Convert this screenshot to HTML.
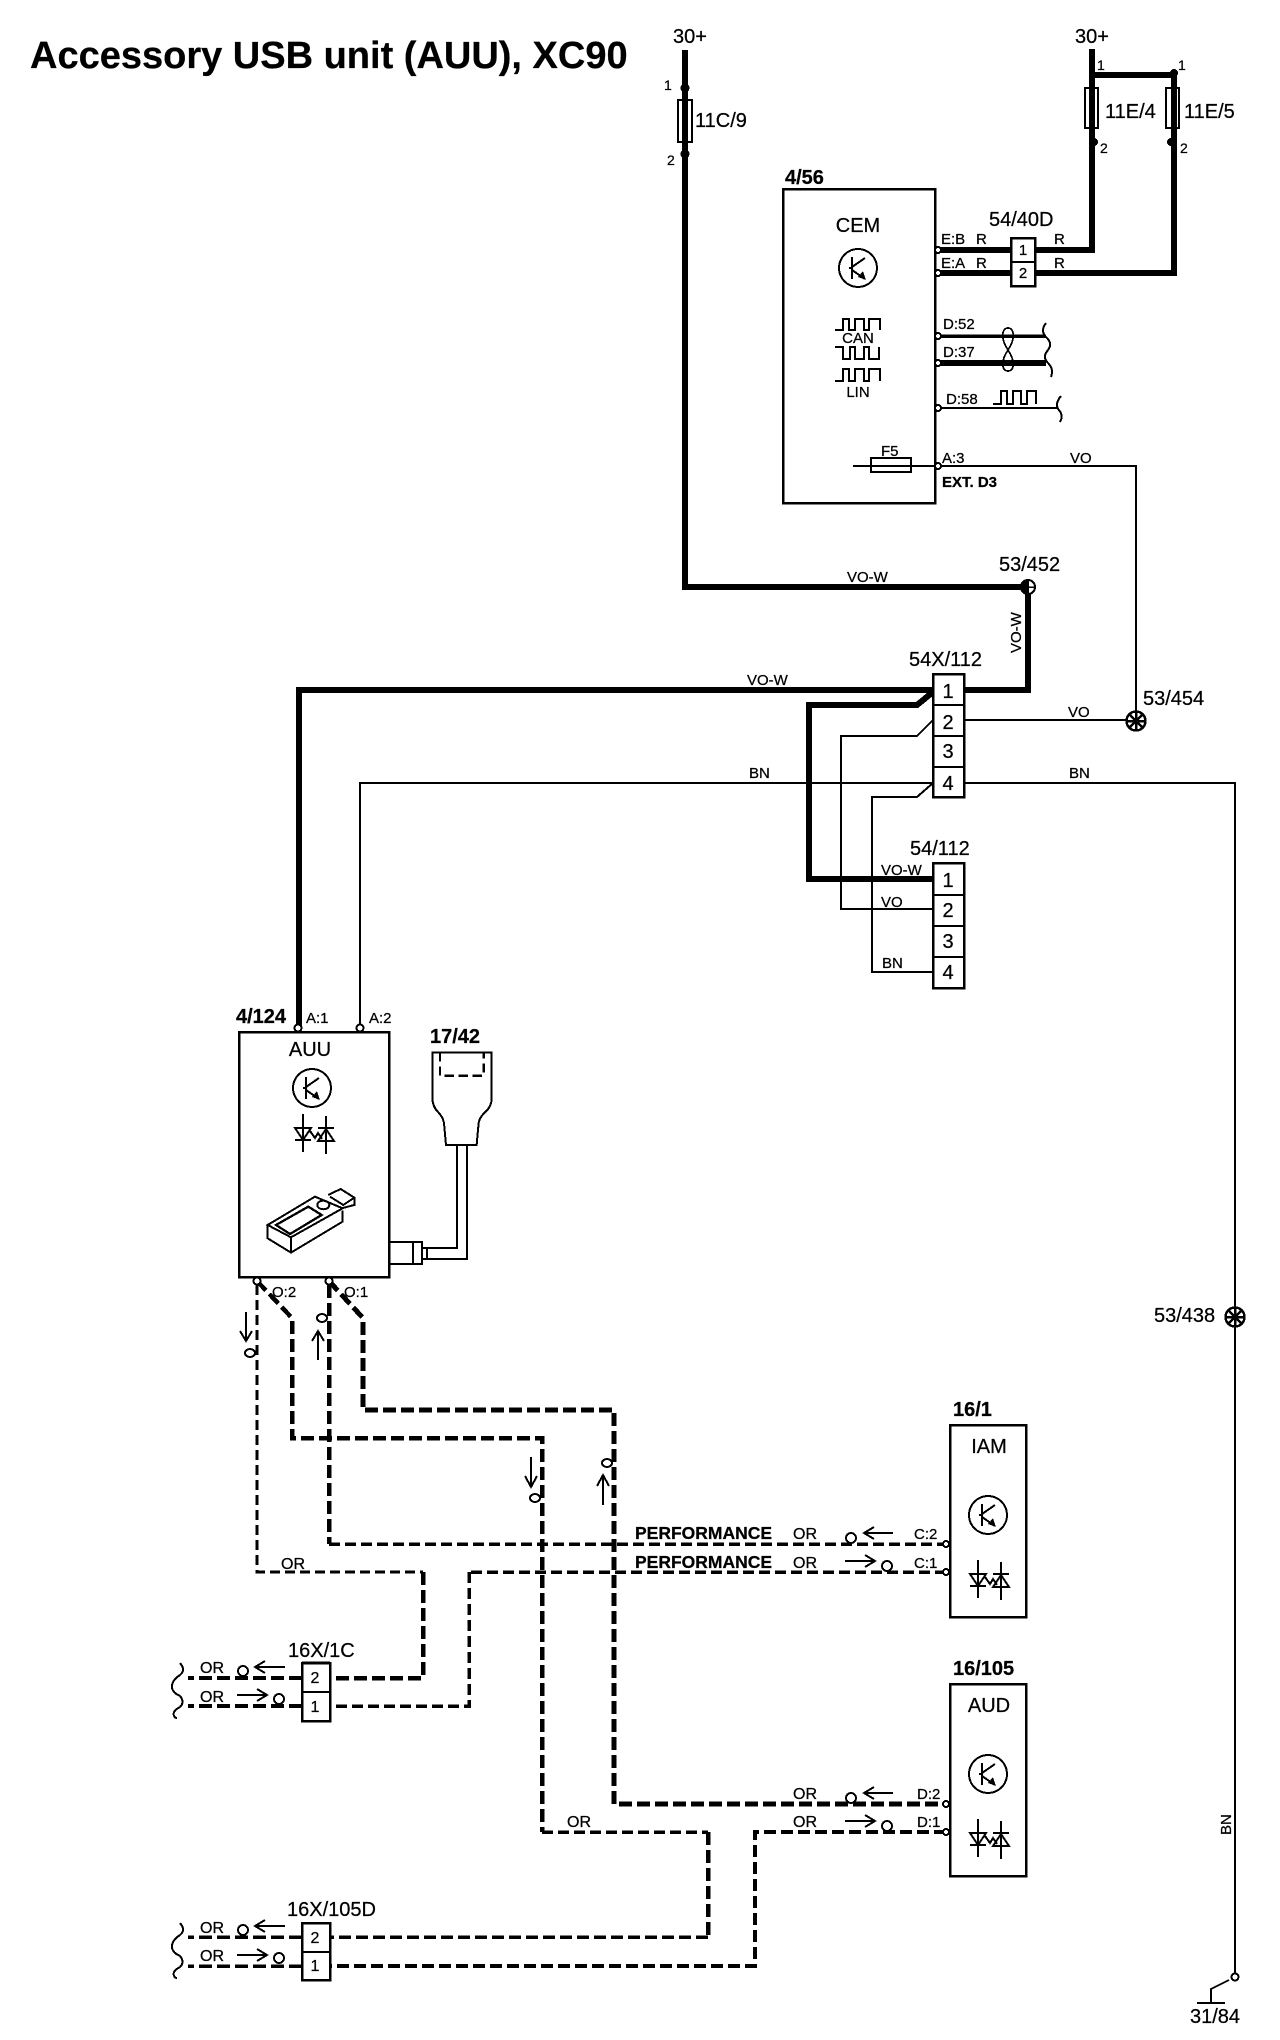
<!DOCTYPE html>
<html>
<head>
<meta charset="utf-8">
<title>Accessory USB unit (AUU), XC90</title>
<style>
html,body{margin:0;padding:0;background:#fff}
svg{display:block;shape-rendering:crispEdges}
text{font-family:"Liberation Sans",sans-serif;fill:#000;stroke:#000;stroke-width:.25}
.l{font-size:20px}
.s{font-size:15px}
.p{font-size:14px}
.o{font-size:16px}
.b{font-weight:bold;font-size:20px}
.m{text-anchor:middle}
.w{fill:none;stroke:#000;stroke-linejoin:miter}
.t{fill:#fff;stroke:#000;stroke-width:2.5}
.a{fill:none;stroke:#000;stroke-width:2}
</style>
</head>
<body>
<svg xmlns="http://www.w3.org/2000/svg" width="1280" height="2040" viewBox="0 0 1280 2040">
<defs>
<g id="tr" fill="none" stroke="#000" stroke-width="2">
<circle r="19"/>
<path d="M-6 -11V11M-9 0H-6M-6 -1L7 -10M-6 2L7 11"/>
<path d="M8 12L0 9L5 3Z" fill="#000" stroke="none"/>
</g>
<g id="di" fill="none" stroke="#000" stroke-width="2">
<path d="M8 0V38M31 2V40M0 14H16L8 26ZM0 26H16M23 27H39L31 15ZM23 14H39"/>
<path d="M15 17L20 24L23 19L27 25"/>
</g>
<g id="sq"><path class="w" stroke-width="2" d="M180 0q6 7 0 12q-9 6 -8 13q1 5 8 8q5 6 0 11q-8 4 -6 9q1 2 3 2"/></g>
</defs>

<rect width="1280" height="2040" fill="#fff"/>

<text x="30" y="68" font-weight="bold" font-size="38">Accessory USB unit (AUU), XC90</text>

<!-- Thick supply wires -->
<path class="w" stroke-width="6" d="M685 50V587H1028V690H964"/>
<path class="w" stroke-width="6" d="M1092 49V250H938"/>
<path class="w" stroke-width="6" d="M1092 75H1174V273H938"/>
<path class="w" stroke-width="6" d="M933 690H299V1028"/>
<path class="w" stroke-width="6" d="M933 692L917 705H809V879H933"/>
<!-- Thin wires -->
<path class="w" stroke-width="2" d="M933 720L917 736H841V909H933"/>
<path class="w" stroke-width="2" d="M933 783H360V1028"/>
<path class="w" stroke-width="2" d="M933 783L917 797H872V972H933"/>
<path class="w" stroke-width="2" d="M964 720H1136"/>
<path class="w" stroke-width="2" d="M853 466H1136V721"/>
<path class="w" stroke-width="2" d="M964 783H1235V1977"/>
<path class="w" stroke-width="2" d="M1229 1980L1211 1989V2003M1197 2003H1225"/>
<!-- CEM bus wires -->
<path class="w" stroke-width="3.5" d="M938 336H1046"/>
<path class="w" stroke-width="6" d="M938 363H1046"/>
<path class="w" stroke-width="2" d="M938 408H1057"/>
<path class="w" stroke-width="1.7" d="M1008 350C1000 338 1002 328 1008 328C1014 328 1016 338 1008 350C1000 362 1002 371 1008 371C1014 371 1016 362 1008 350Z"/>
<path class="w" stroke-width="2" d="M1046 323q-6 8 0 14q7 6 2 13q-6 7 0 13q6 6 3 14"/>
<path class="w" stroke-width="2" d="M1061 396q-6 7 -3 13q6 6 2 13"/>

<!-- Dashed wires -->
<path class="w" stroke-width="3" stroke-dasharray="10 5" d="M257 1285V1572H423"/>
<path class="w" stroke-width="4.5" stroke-dasharray="13 5" d="M423 1572V1678H330"/>
<path class="w" stroke-width="4.5" stroke-dasharray="13 5" d="M257 1281L292 1318V1438H542V1832"/>
<path class="w" stroke-width="3.5" stroke-dasharray="11 5" d="M542 1832H708"/>
<path class="w" stroke-width="4.5" stroke-dasharray="13 5" d="M708 1832V1937"/>
<path class="w" stroke-width="3.5" stroke-dasharray="12 5" d="M708 1937H330"/>
<path class="w" stroke-width="4.5" stroke-dasharray="13 5" d="M329 1285V1544"/>
<path class="w" stroke-width="3.5" stroke-dasharray="11 5" d="M329 1544H946"/>
<path class="w" stroke-width="5" stroke-dasharray="13 5" d="M329 1281L363 1318V1410H614V1804H946"/>
<path class="w" stroke-width="3.5" stroke-dasharray="11 5" d="M946 1572H469"/>
<path class="w" stroke-width="3.5" stroke-dasharray="11 5" d="M469 1572V1706H330"/>
<path class="w" stroke-width="4" stroke-dasharray="12 5" d="M946 1832H755V1966H330"/>
<path class="w" stroke-width="4" stroke-dasharray="13 5" d="M302 1678H188"/>
<path class="w" stroke-width="4" stroke-dasharray="13 5" d="M302 1706H188"/>
<path class="w" stroke-width="3.5" stroke-dasharray="13 5" d="M302 1937H188"/>
<path class="w" stroke-width="3.5" stroke-dasharray="13 5" d="M302 1966H188"/>
<use href="#sq" transform="translate(0,1663)"/>
<use href="#sq" transform="translate(0,1923)"/>

<!-- Fuses -->
<rect x="678" y="100" width="14" height="42" class="w" stroke-width="2"/>
<rect x="1085" y="88" width="13" height="40" class="w" stroke-width="2"/>
<rect x="1166" y="88" width="13" height="40" class="w" stroke-width="2"/>
<circle cx="685" cy="88" r="4.5"/><circle cx="685" cy="154" r="4.5"/>
<circle cx="1174" cy="73" r="4"/><circle cx="1094" cy="142" r="4"/><circle cx="1171" cy="142" r="4"/>

<!-- CEM -->
<rect x="783" y="189" width="152" height="314" class="w" stroke-width="2.5"/>
<use href="#tr" transform="translate(858,268)"/>
<path class="w" stroke-width="2" d="M835 330h8v-11h6v11h6v-11h9v11h5v-11h11v11"/>
<path class="w" stroke-width="2" d="M835 347h8v12h7v-12h5v12h9v-12h5v12h10v-12"/>
<path class="w" stroke-width="2" d="M835 381h8v-12h6v12h6v-12h9v12h5v-12h11v12"/>
<path class="w" stroke-width="2" d="M993 404h8v-13h6v13h6v-13h8v13h6v-13h9v13"/>
<rect x="871" y="458" width="40" height="14" class="w" stroke-width="2"/>

<!-- Connector 54/40D -->
<rect x="1011" y="238" width="24" height="48" class="t"/>
<path class="w" stroke-width="2" d="M1011 262H1035"/>

<!-- Connectors 54X/112 & 54/112 -->
<rect x="933" y="674" width="31" height="123" class="t"/>
<path class="w" stroke-width="2" d="M933 705H964M933 736H964M933 767H964"/>
<rect x="933" y="863" width="31" height="125" class="t"/>
<path class="w" stroke-width="2" d="M933 895H964M933 926H964M933 957H964"/>

<!-- Junctions -->
<circle cx="1028" cy="587" r="7" fill="#fff" stroke="#000" stroke-width="2"/>
<path d="M1028 580A7 7 0 0 0 1028 594Z"/>
<path class="w" stroke-width="1.5" d="M1021 587H1035M1028 580V594"/>
<g fill="#fff" stroke="#000" stroke-width="2.5">
<circle cx="1136" cy="721" r="9.5"/>
<path d="M1127 721H1145M1136 712V730M1130 715L1142 727M1142 715L1130 727"/>
<circle cx="1235" cy="1317" r="9.5"/>
<path d="M1226 1317H1244M1235 1308V1326M1229 1311L1241 1323M1241 1311L1229 1323"/>
</g>

<!-- AUU -->
<rect x="239" y="1032" width="150" height="245" class="w" stroke-width="2.5"/>
<use href="#tr" transform="translate(312,1088)"/>
<use href="#di" transform="translate(295,1114)"/>
<g transform="translate(200,980) scale(0.3333)" fill="none" stroke="#000" stroke-width="6">
<path d="M203 735V775L273 818L428 725V692M203 735L273 772V818M273 772L428 685L345 650L203 735Z"/>
<path d="M228 735L325 680L365 705L270 762Z" stroke-width="7"/>
<ellipse cx="370" cy="675" rx="18" ry="13"/>
<path d="M385 645L422 627L463 653V675L425 685M390 650L430 675L463 653"/>
</g>
<!-- Jack & USB plug 17/42 -->
<rect x="389" y="1242" width="33" height="22" class="w" stroke-width="2"/>
<path class="w" stroke-width="2" d="M413 1242V1264M422 1248H427V1259H422M427 1248H457V1145M427 1259H467V1145"/>
<g transform="translate(200,980) scale(0.3333)" fill="none" stroke="#000" stroke-width="6">
<path d="M697 217H875V355Q875 380 855 397Q835 415 835 440L830 495H738L733 440Q733 415 715 397Q697 380 697 350Z"/>
<path d="M720 217V287H851V217" stroke-dasharray="28 14" stroke-width="7"/>
</g>

<!-- IAM / AUD -->
<rect x="950" y="1425" width="76" height="192" class="w" stroke-width="2.5"/>
<use href="#tr" transform="translate(988,1515)"/>
<use href="#di" transform="translate(970,1560)"/>
<rect x="950" y="1684" width="76" height="192" class="w" stroke-width="2.5"/>
<use href="#tr" transform="translate(988,1774)"/>
<use href="#di" transform="translate(970,1819)"/>

<!-- Connectors 16X -->
<rect x="302" y="1663" width="28" height="58" class="t"/>
<path class="w" stroke-width="2" d="M302 1692H330"/>
<path class="w" stroke-width="3" d="M302 1663H330"/>
<rect x="302" y="1923" width="28" height="57" class="t"/>
<path class="w" stroke-width="2" d="M302 1952H330"/>

<!-- Terminals -->
<g fill="#fff" stroke="#000" stroke-width="2">
<circle cx="938" cy="250" r="3"/><circle cx="938" cy="273" r="3"/>
<circle cx="938" cy="336" r="3"/><circle cx="938" cy="363" r="3"/>
<circle cx="938" cy="408" r="3"/><circle cx="938" cy="466" r="3"/>
<circle cx="298" cy="1028" r="3.5"/><circle cx="360" cy="1028" r="3.5"/>
<circle cx="257" cy="1281" r="3.5"/><circle cx="329" cy="1281" r="3.5"/>
<circle cx="946" cy="1544" r="3"/><circle cx="946" cy="1572" r="3"/>
<circle cx="946" cy="1804" r="3"/><circle cx="946" cy="1832" r="3"/>
<circle cx="1235" cy="1977" r="3.5"/>
</g>

<!-- Signal markers -->
<g class="a">
<path d="M246 1312V1341M240 1331L246 1341L252 1331"/><ellipse cx="250" cy="1353" rx="5" ry="4"/>
<path d="M318 1360V1331M312 1341L318 1331L324 1341"/><ellipse cx="322" cy="1318" rx="5" ry="4"/>
<path d="M531 1457V1487M525 1476L531 1487L537 1476"/><ellipse cx="535" cy="1498" rx="5" ry="4"/>
<path d="M603 1505V1475M597 1486L603 1475L609 1486"/><ellipse cx="607" cy="1463" rx="5" ry="4"/>
<path d="M893 1533H864M874 1527L864 1533L874 1539"/><circle cx="851" cy="1538" r="5"/>
<path d="M845 1561H875M865 1555L875 1561L865 1567"/><circle cx="887" cy="1566" r="5"/>
<path d="M893 1793H864M874 1787L864 1793L874 1799"/><circle cx="851" cy="1798" r="5"/>
<path d="M845 1821H875M865 1815L875 1821L865 1827"/><circle cx="887" cy="1826" r="5"/>
<path d="M285 1667H255M265 1661L255 1667L265 1673"/><circle cx="243" cy="1671" r="5"/>
<path d="M237 1695H267M257 1689L267 1695L257 1701"/><circle cx="279" cy="1699" r="5"/>
<path d="M285 1926H255M265 1920L255 1926L265 1932"/><circle cx="243" cy="1930" r="5"/>
<path d="M237 1955H267M257 1949L267 1955L257 1961"/><circle cx="279" cy="1958" r="5"/>
</g>

<!-- Top labels -->
<text class="l" x="673" y="43">30+</text>
<text class="l" x="1075" y="43">30+</text>
<text class="p" x="664" y="90">1</text>
<text class="p" x="667" y="165">2</text>
<text class="l" x="695" y="127">11C/9</text>
<text class="p" x="1097" y="70">1</text>
<text class="p" x="1178" y="70">1</text>
<text class="p" x="1100" y="153">2</text>
<text class="p" x="1180" y="153">2</text>
<text class="l" x="1105" y="118">11E/4</text>
<text class="l" x="1184" y="118">11E/5</text>
<text class="b" x="785" y="184">4/56</text>
<text class="l m" x="858" y="232">CEM</text>
<text class="s m" x="858" y="343">CAN</text>
<text class="s m" x="858" y="397">LIN</text>
<text class="s" x="881" y="456">F5</text>
<text class="s" x="941" y="244">E:B</text>
<text class="s" x="941" y="268">E:A</text>
<text class="s" x="976" y="244">R</text>
<text class="s" x="976" y="268">R</text>
<text class="s" x="1054" y="244">R</text>
<text class="s" x="1054" y="268">R</text>
<text class="l" x="989" y="226">54/40D</text>
<text class="s m" x="1023" y="255">1</text>
<text class="s m" x="1023" y="278">2</text>
<text class="s" x="943" y="329">D:52</text>
<text class="s" x="943" y="357">D:37</text>
<text class="s" x="946" y="404">D:58</text>
<text class="s" x="942" y="463">A:3</text>
<text x="942" y="487" font-weight="bold" font-size="15">EXT. D3</text>
<text class="s" x="1070" y="463">VO</text>

<!-- Middle labels -->
<text class="s" x="847" y="582">VO-W</text>
<text class="l" x="999" y="571">53/452</text>
<text class="s" transform="translate(1021,653) rotate(-90)">VO-W</text>
<text class="l" x="909" y="666">54X/112</text>
<text class="s" x="747" y="685">VO-W</text>
<text class="l" x="1143" y="705">53/454</text>
<text class="s" x="1068" y="717">VO</text>
<text class="s" x="749" y="778">BN</text>
<text class="s" x="1069" y="778">BN</text>
<text class="l m" x="948" y="698">1</text>
<text class="l m" x="948" y="729">2</text>
<text class="l m" x="948" y="758">3</text>
<text class="l m" x="948" y="790">4</text>
<text class="l" x="910" y="855">54/112</text>
<text class="s" x="881" y="875">VO-W</text>
<text class="s" x="881" y="907">VO</text>
<text class="s" x="882" y="968">BN</text>
<text class="l m" x="948" y="887">1</text>
<text class="l m" x="948" y="917">2</text>
<text class="l m" x="948" y="948">3</text>
<text class="l m" x="948" y="979">4</text>

<!-- AUU labels -->
<text class="b" x="236" y="1023">4/124</text>
<text class="s" x="306" y="1023">A:1</text>
<text class="s" x="369" y="1023">A:2</text>
<text class="b" x="430" y="1043">17/42</text>
<text class="l m" x="310" y="1056">AUU</text>
<text class="s" x="272" y="1297">O:2</text>
<text class="s" x="344" y="1297">O:1</text>
<text class="l" x="1154" y="1322">53/438</text>

<!-- Lower labels -->
<text class="o" x="281" y="1569">OR</text>
<text x="635" y="1539" font-weight="bold" font-size="17.5">PERFORMANCE</text>
<text x="635" y="1568" font-weight="bold" font-size="17.5">PERFORMANCE</text>
<text class="o" x="793" y="1539">OR</text>
<text class="o" x="793" y="1568">OR</text>
<text class="s" x="914" y="1539">C:2</text>
<text class="s" x="914" y="1568">C:1</text>
<text class="b" x="953" y="1416">16/1</text>
<text class="l m" x="989" y="1453">IAM</text>
<text class="b" x="953" y="1675">16/105</text>
<text class="l m" x="989" y="1712">AUD</text>
<text class="o" x="793" y="1799">OR</text>
<text class="o" x="793" y="1827">OR</text>
<text class="s" x="917" y="1799">D:2</text>
<text class="s" x="917" y="1827">D:1</text>
<text class="o" x="567" y="1827">OR</text>
<text class="l" x="288" y="1657">16X/1C</text>
<text class="o" x="200" y="1673">OR</text>
<text class="o" x="200" y="1702">OR</text>
<text class="o m" x="315" y="1683">2</text>
<text class="o m" x="315" y="1712">1</text>
<text class="l" x="287" y="1916">16X/105D</text>
<text class="o" x="200" y="1933">OR</text>
<text class="o" x="200" y="1961">OR</text>
<text class="o m" x="315" y="1943">2</text>
<text class="o m" x="315" y="1971">1</text>
<text class="s" transform="translate(1231,1835) rotate(-90)">BN</text>
<text class="l" x="1190" y="2023">31/84</text>
</svg>
</body>
</html>
